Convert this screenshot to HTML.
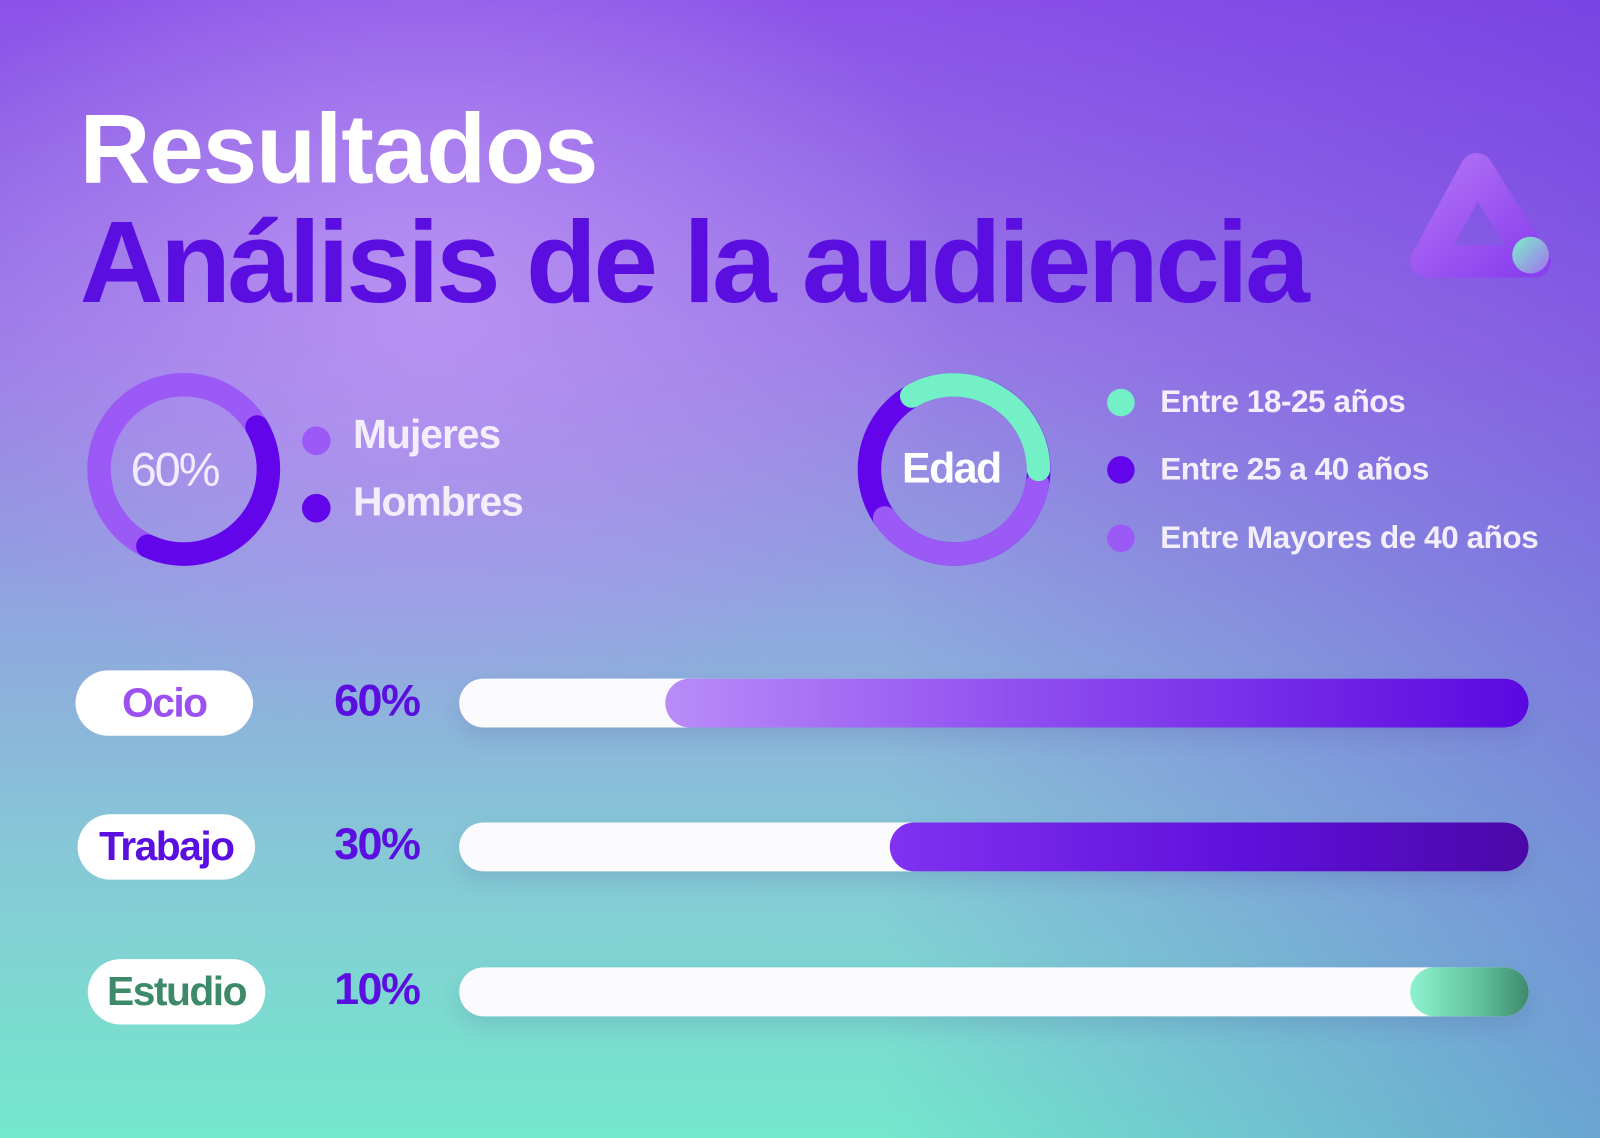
<!DOCTYPE html>
<html style="width:1600px;height:1138px;overflow:hidden;background:#76e6cc"><head><meta charset="utf-8"><style>
*{margin:0;padding:0;box-sizing:border-box}
body{width:1600px;height:1138px;overflow:hidden;position:relative;font-family:"Liberation Sans",sans-serif;}
.bg{position:absolute;left:0;top:0;width:1600px;height:1138px;background:
radial-gradient(ellipse 530px 430px at 430px 306px, rgba(190,150,245,0.85), rgba(190,150,245,0) 100%),
linear-gradient(180deg,#8b52e8 0%,#9a7ae6 30%,#8fa8de 55%,#86c8d6 75%,#74e8cc 100%);}
.ov{position:absolute;left:0;top:0;width:1600px;height:1138px;background:linear-gradient(90deg,rgba(0,0,0,0) 55%,rgba(90,40,220,0.35) 100%);}
#w{position:absolute;left:0;top:0;width:1568px;height:1115px;overflow:hidden;transform:scale(1.0204);transform-origin:0 0}
.t{position:absolute;font-weight:bold;white-space:nowrap}
.pill{position:absolute;background:#fff;border-radius:32px;height:64px;width:174px;font-weight:bold;font-size:40px;text-align:center;line-height:64px;letter-spacing:-1.5px}
.pct{position:absolute;width:130px;text-align:right;font-size:44px;color:#5a0fe0;font-weight:bold;letter-spacing:-1.5px}
.bar{position:absolute;left:450px;width:1048px;height:48px;border-radius:24px;background:#fbfbfd;box-shadow:0 10px 20px rgba(60,40,120,0.12)}
.fill{position:absolute;height:48px;border-radius:24px;right:70px}
.leg{position:absolute;font-weight:bold;color:#f4eefc;letter-spacing:-0.5px}
.dot{position:absolute;border-radius:50%}
</style></head><body>
<div class="bg"></div>
<div class="ov"></div>
<div id="w">
<div class="t" style="left:78px;top:92px;font-size:96px;color:#fff;letter-spacing:-1px">Resultados</div>
<div class="t" style="left:78px;top:192px;font-size:114px;color:#5a0fe0;letter-spacing:-3.5px">Análisis de la audiencia</div>

<svg style="position:absolute;left:0;top:0" width="1568" height="1115">
<defs>
<linearGradient id="lg" x1="0" y1="0" x2="1" y2="1"><stop offset="0" stop-color="#b070f5"/><stop offset="1" stop-color="#8a40ee"/></linearGradient>
<linearGradient id="lc" x1="0" y1="0" x2="1" y2="1"><stop offset="0" stop-color="#7ef0c8"/><stop offset="1" stop-color="#a070f0"/></linearGradient>
</defs>
<circle cx="180" cy="460" r="83" fill="none" stroke="#9b59f5" stroke-width="23"/>
<path d="M251.9,418.5 A83,83 0 0 1 144.9,535.2" fill="none" stroke="#6205ea" stroke-width="23" stroke-linecap="round"/>
<circle cx="935" cy="460" r="83" fill="none" stroke="#6205ea" stroke-width="23"/>
<path d="M1016.7,474.4 A83,83 0 0 1 867,507.6" fill="none" stroke="#9b59f5" stroke-width="23" stroke-linecap="round"/>
<path d="M893.5,388.1 A83,83 0 0 1 1017.7,460" fill="none" stroke="#74f0c6" stroke-width="23" stroke-linecap="round"/>
<path d="M1447,166 L1504,256 L1398,256 Z" fill="none" stroke="url(#lg)" stroke-width="32" stroke-linejoin="round"/>
<circle cx="1500" cy="250" r="18" fill="url(#lc)"/>
</svg>

<div class="t" style="left:128px;top:433px;font-size:46px;color:#f2ecfc;letter-spacing:-2px;font-weight:normal">60%</div>
<div class="dot" style="left:296px;top:418px;width:28px;height:28px;background:#9b59f5"></div>
<div class="dot" style="left:296px;top:484px;width:28px;height:28px;background:#6205ea"></div>
<div class="leg" style="left:346px;top:404px;font-size:40px;letter-spacing:-1px">Mujeres</div>
<div class="leg" style="left:346px;top:470px;font-size:40px;letter-spacing:-1px">Hombres</div>

<div class="t" style="left:884px;top:435px;font-size:42px;color:#fff;letter-spacing:-1.5px">Edad</div>
<div class="dot" style="left:1085px;top:381px;width:27px;height:27px;background:#74f0c6"></div>
<div class="dot" style="left:1085px;top:447px;width:27px;height:27px;background:#6205ea"></div>
<div class="dot" style="left:1085px;top:514px;width:27px;height:27px;background:#9b59f5"></div>
<div class="leg" style="left:1137px;top:376px;font-size:31px">Entre 18-25 años</div>
<div class="leg" style="left:1137px;top:442px;font-size:31px">Entre 25 a 40 años</div>
<div class="leg" style="left:1137px;top:509px;font-size:31px">Entre Mayores de 40 años</div>

<div class="pill" style="left:74px;top:657px;color:#9b50f0">Ocio</div>
<div class="pill" style="left:76px;top:798px;color:#5a0fe0">Trabajo</div>
<div class="pill" style="left:86px;top:940px;color:#3d8a6a">Estudio</div>
<div class="pct" style="left:281px;top:662px">60%</div>
<div class="pct" style="left:281px;top:803px">30%</div>
<div class="pct" style="left:281px;top:945px">10%</div>

<div class="bar" style="top:665px"></div>
<div class="fill" style="top:665px;left:652px;background:linear-gradient(90deg,#b98cf8,#9050f0 40%,#5a08e0)"></div>
<div class="bar" style="top:806px"></div>
<div class="fill" style="top:806px;left:872px;background:linear-gradient(90deg,#8032f0,#6010dc 55%,#4a08a8)"></div>
<div class="bar" style="top:948px"></div>
<div class="fill" style="top:948px;left:1382px;background:linear-gradient(90deg,#8ef3cf,#5fbf9a 60%,#3e8a6c)"></div>
</div>
</body></html>
